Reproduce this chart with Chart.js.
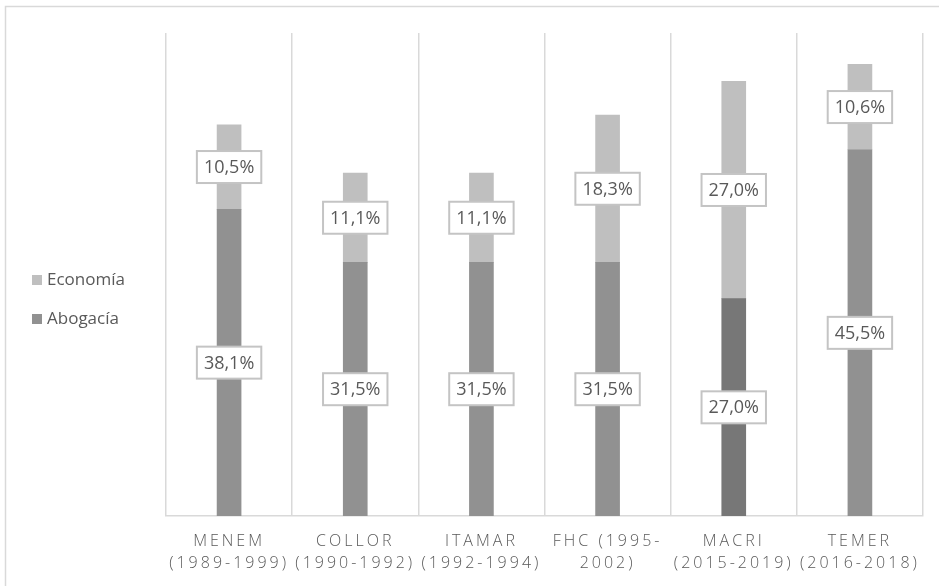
<!DOCTYPE html>
<html>
<head>
<meta charset="utf-8">
<script src="https://cdn.jsdelivr.net/npm/chart.js@4.4.0/dist/chart.umd.min.js"></script>
<style>
    html, body { margin: 0; padding: 0; background: #ffffff; }
    #wrap { position: relative; width: 939px; height: 586px; }
</style>
</head>
<body>
<div id="wrap"><canvas id="grafico" width="939" height="586"></canvas></div>
<script>
const presidentes = [
    ["MENEM", "(1989-1999)"],
    ["COLLOR", "(1990-1992)"],
    ["ITAMAR", "(1992-1994)"],
    ["FHC (1995-", "2002)"],
    ["MACRI", "(2015-2019)"],
    ["TEMER", "(2016-2018)"],
];
const abogacia = [38.1, 31.5, 31.5, 31.5, 27.0, 45.5];
const economia = [10.5, 11.1, 11.1, 18.3, 27.0, 10.6];

const corEconomia = "#bfbfbf";
const corAbogacia = "#919191";
const corAbogaciaMacri = "#777777";

const formatar = (v) => v.toFixed(1).replace(".", ",") + "%";

// borda externa + espaçamento das letras do eixo x
const pluginFundo = {
    id: "fundo",
    beforeDraw: (chart) => {
        const ctx = chart.ctx;
        ctx.save();
        ctx.strokeStyle = "#d9d9d9";
        ctx.lineWidth = 1.5;
        ctx.beginPath();
        ctx.moveTo(5.5, 600);
        ctx.lineTo(5.5, 6.5);
        ctx.lineTo(950, 6.5);
        ctx.stroke();
        ctx.restore();
        ctx.letterSpacing = "3px";
    },
    beforeDatasetsDraw: (chart) => {
        chart.ctx.letterSpacing = "0px";
    },
};

// rótulos com caixa branca no meio de cada segmento
const pluginRotulos = {
    id: "rotulos",
    afterDatasetsDraw: (chart) => {
        const ctx = chart.ctx;
        ctx.save();
        ctx.letterSpacing = "0px";
        ctx.font = "18px 'Open Sans', sans-serif";
        ctx.textAlign = "center";
        ctx.textBaseline = "middle";
        chart.data.datasets.forEach((ds, i) => {
            const meta = chart.getDatasetMeta(i);
            meta.data.forEach((bar, j) => {
                const texto = formatar(ds.data[j]);
                const y = (bar.y + bar.base) / 2;
                const w = ctx.measureText(texto).width + 14;
                const h = 32;
                ctx.fillStyle = "#ffffff";
                ctx.fillRect(bar.x - w / 2, y - h / 2, w, h);
                ctx.strokeStyle = "#c4c4c4";
                ctx.lineWidth = 2;
                ctx.strokeRect(bar.x - w / 2, y - h / 2, w, h);
                ctx.fillStyle = "#595959";
                ctx.fillText(texto, bar.x, y + 1);
            });
        });
        ctx.restore();
    },
};

// legenda à esquerda
const pluginLegenda = {
    id: "legenda",
    afterDraw: (chart) => {
        const ctx = chart.ctx;
        const itens = [
            { texto: "Economía", cor: corEconomia, y: 280 },
            { texto: "Abogacía", cor: corAbogacia, y: 319 },
        ];
        ctx.save();
        ctx.letterSpacing = "0px";
        ctx.font = "17px 'Open Sans', sans-serif";
        ctx.textBaseline = "middle";
        ctx.textAlign = "left";
        itens.forEach((item) => {
            ctx.fillStyle = item.cor;
            ctx.fillRect(32, item.y - 5, 10, 10);
            ctx.fillStyle = "#595959";
            ctx.fillText(item.texto, 47, item.y);
        });
        ctx.restore();
    },
};

const ctx = document.getElementById("grafico").getContext("2d");

new Chart(ctx, {
    type: "bar",
    data: {
        labels: presidentes,
        datasets: [
            {
                label: "Abogacía",
                data: abogacia,
                backgroundColor: abogacia.map((v, i) =>
                    i === 4 ? corAbogaciaMacri : corAbogacia
                ),
                barThickness: 24,
            },
            {
                label: "Economía",
                data: economia,
                backgroundColor: corEconomia,
                barThickness: 24,
            },
        ],
    },
    options: {
        responsive: false,
        animation: false,
        devicePixelRatio: 1,
        layout: {
            padding: { left: 166, right: 16, top: 33, bottom: 0 },
        },
        plugins: {
            legend: { display: false },
            tooltip: { enabled: false },
        },
        scales: {
            x: {
                stacked: true,
                afterFit: (scale) => {
                    scale.height = 70;
                },
                grid: {
                    color: "#d9d9d9",
                    lineWidth: 1.5,
                    drawTicks: false,
                },
                border: { color: "#d9d9d9", width: 1.5 },
                ticks: {
                    autoSkip: false,
                    maxRotation: 0,
                    padding: 15,
                    color: "#595959",
                    font: { family: "'Open Sans', sans-serif", size: 16, weight: 300, lineHeight: 1.35 },
                },
            },
            y: {
                stacked: true,
                display: false,
                min: 0,
                max: 60,
            },
        },
    },
    plugins: [pluginFundo, pluginRotulos, pluginLegenda],
});
</script>
</body>
</html>
